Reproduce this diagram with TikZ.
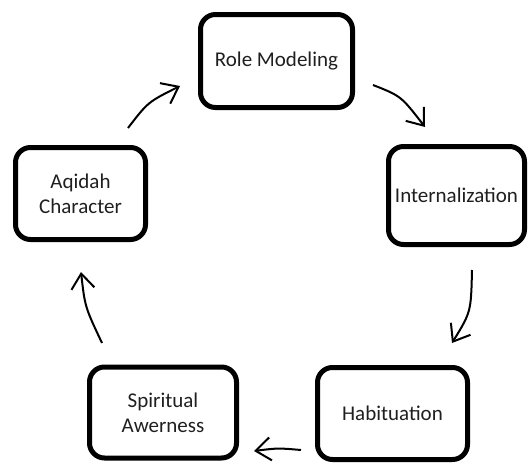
\documentclass[tikz,border=0pt]{standalone}
\usepackage{fontspec}
\setmainfont{Carlito}
\usetikzlibrary{arrows.meta}
\begin{document}
\begin{tikzpicture}[x=1pt,y=-1pt,
  stagebox/.style={draw=black, line width=5pt, rounded corners=15pt, inner sep=0pt,
    align=center, font=\fontsize{21}{25}\selectfont, text=black!88},
  flow/.style={line width=2pt, -{Straight Barb[length=15pt,width=23pt,line width=2pt]}}]
\useasboundingbox (0,0) rectangle (531,463);
\node[stagebox, minimum width=152pt, minimum height=93pt] (role) at (276.5,61) {Role Modeling};
\node[stagebox, minimum width=136pt, minimum height=98pt] (intern) at (456.5,195.5) {Internalization};
\node[stagebox, minimum width=150pt, minimum height=92pt] (habit) at (392.5,413.5) {Habituation};
\node[stagebox, minimum width=147pt, minimum height=91pt] (spirit) at (163,412.5) {Spiritual\\Awerness};
\node[stagebox, minimum width=130pt, minimum height=92pt] (aqidah) at (80.5,193.5) {Aqidah\\Character};
\coordinate (a1s) at (373,85);  \coordinate (a1e) at (425,127);
\coordinate (a2s) at (472,270); \coordinate (a2e) at (452,343);
\coordinate (a3s) at (301,450); \coordinate (a3e) at (254,451);
\coordinate (a4s) at (102,343); \coordinate (a4e) at (81,272);
\coordinate (a5s) at (128,128); \coordinate (a5e) at (180,86);
\draw[flow] (a1s) .. controls (401,96) .. (a1e);
\draw[flow] (a2s) .. controls (471,312) .. (a2e);
\draw[flow] (a3s) .. controls (278,448) .. (a3e);
\draw[flow] (a4s) .. controls (85,307) .. (a4e);
\draw[flow] (a5s) .. controls (148,102) .. (a5e);
\end{tikzpicture}
\end{document}
